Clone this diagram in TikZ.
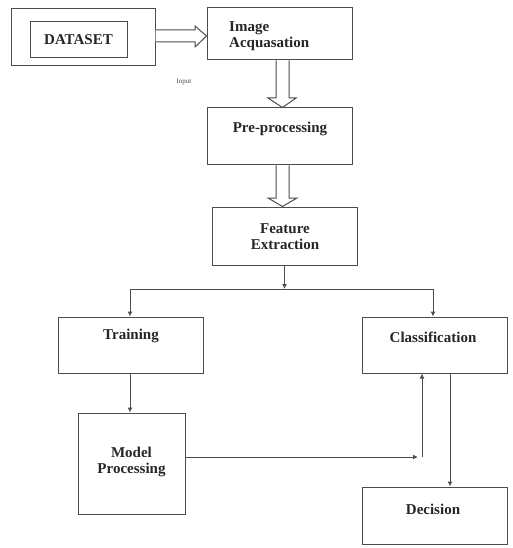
\documentclass[tikz,border=0pt]{standalone}
\usepackage{fontspec}
\setmainfont{Liberation Serif}
\usetikzlibrary{arrows.meta,calc}
\begin{document}
\begin{tikzpicture}[x=1pt,y=-1pt,
  box/.style={draw=black!70,line width=1pt,rectangle,inner sep=0pt,fill=white},
  lbl/.style={font=\fontsize{15}{18}\selectfont\bfseries,text=black!85,align=center,inner sep=0pt},
  conn/.style={draw=black!70,line width=1pt},
  tip/.style={-{Latex[length=5pt,width=5pt]}},
  hollow/.style={draw=black!70,line width=1pt,fill=white,line join=miter}
]
\useasboundingbox (0,0) rectangle (513,548);
% boxes
\node[box,minimum width=144pt,minimum height=57pt] (dso) at (83,37.5) {};
\node[box,minimum width=97pt,minimum height=36pt] (dsi) at (78.5,40) {};
\node[lbl] (dst) at (dsi.center) {DATASET};
\node[box,minimum width=145pt,minimum height=52pt] (ia) at (279.5,34) {};
\node[lbl,align=left,anchor=west] (iat) at (229,36) {Image\\[-2pt]Acquasation};
\node[box,minimum width=145pt,minimum height=57pt] (pp) at (279.5,136.5) {};
\node[lbl] (ppt) at (280,129) {Pre-processing};
\node[box,minimum width=145pt,minimum height=58pt] (fe) at (284.5,236) {};
\node[lbl] (fet) at (285,237) {Feature\\[-2pt]Extraction};
\node[box,minimum width=145pt,minimum height=56pt] (tr) at (130.5,345) {};
\node[lbl] (trt) at (131,336) {Training};
\node[box,minimum width=107pt,minimum height=101pt] (mp) at (131.5,463.5) {};
\node[lbl] (mpt) at (131.5,462) {Model\\[-2pt]Processing};
\node[box,minimum width=145pt,minimum height=56pt] (cl) at (434.5,345) {};
\node[lbl] (clt) at (433,337) {Classification};
\node[box,minimum width=145pt,minimum height=57pt] (dec) at (434.5,515.5) {};
\node[lbl] (dect) at (433,509) {Decision};
\node[font=\fontsize{7}{8}\selectfont,text=black!70,inner sep=0pt] (inp) at (184,82) {Input};
% hollow double arrows
\path[hollow] (dso.east |- 0,30) -- (195,30) -- (195,26) -- (ia.west |- 0,36) -- (195,47) -- (195,42) -- (dso.east |- 0,42);
\path[hollow] (276,0 |- ia.south) -- (276,98) -- (268,98) -- (282.5,0 |- pp.north) -- (296,98) -- (289,98) -- (289,0 |- ia.south);
\path[hollow] (276,0 |- pp.south) -- (276,198) -- (268,198) -- (282.5,0 |- fe.north) -- (297,198) -- (289,198) -- (289,0 |- pp.south);
% connectors
\coordinate (j) at (fe.south |- 0,289);
\draw[conn,tip] (fe.south) -- (j);
\draw[conn,tip] (j) -| (130,0 |- tr.north);
\draw[conn,tip] (j) -| (433,0 |- cl.north);
\draw[conn,tip] (130,0 |- tr.south) -- (130,0 |- mp.north);
\coordinate (mpr) at (mp.east |- 0,457);
\draw[conn,tip] (mpr) -- (418,457);
\draw[conn,tip] (422,457) -- (422,0 |- cl.south);
\draw[conn,tip] (450,0 |- cl.south) -- (450,0 |- dec.north);
\end{tikzpicture}
\end{document}
